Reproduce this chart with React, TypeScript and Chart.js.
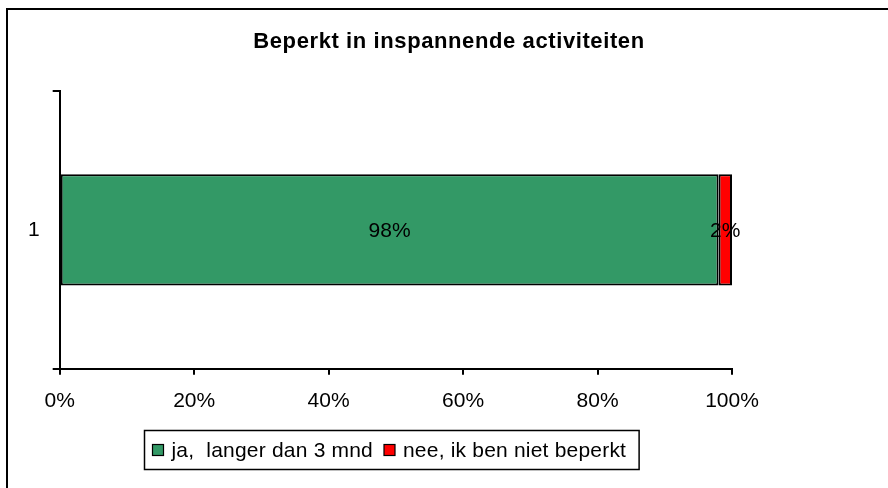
import React, { useEffect, useRef } from "react";
import { Chart, registerables } from "chart.js";

Chart.register(...registerables);

const titleText = "Beperkt in inspannende activiteiten";
const categories = ["1"];
const seriesLabels = ["ja,  langer dan 3 mnd", "nee, ik ben niet beperkt"];
const jaValues = [98];
const neeValues = [2];
const seriesColors = ["#339966", "#FF0000"];
const xTickStep = 20;
const xMin = 0;
const xMax = 100;

const FONT = "'Liberation Sans', Arial, Helvetica, sans-serif";

const frameBorder = {
  id: "frameBorder",
  afterDraw(chart: any) {
    const ctx = chart.ctx;
    ctx.save();
    ctx.strokeStyle = "#000";
    ctx.lineWidth = 2;
    ctx.strokeRect(7, 9, 3000, 3000);
    ctx.restore();
  },
};

const titlePlugin = {
  id: "titlePlugin",
  afterDraw(chart: any) {
    const ctx = chart.ctx;
    ctx.save();
    ctx.font = `bold 22px ${FONT}`;
    try {
      (ctx as any).letterSpacing = "0.6px";
    } catch (e) {}
    ctx.fillStyle = "#000";
    ctx.textAlign = "center";
    ctx.textBaseline = "middle";
    ctx.fillText(titleText, 449, 42);
    ctx.restore();
  },
};

const dataLabels = {
  id: "dataLabels",
  afterDatasetsDraw(chart: any) {
    const ctx = chart.ctx;
    ctx.save();
    ctx.font = `21px ${FONT}`;
    ctx.fillStyle = "#000";
    ctx.textAlign = "center";
    ctx.textBaseline = "middle";
    chart.data.datasets.forEach((ds: any, di: number) => {
      const meta = chart.getDatasetMeta(di);
      meta.data.forEach((el: any, i: number) => {
        const p = el.getProps(["x", "base", "y"], true);
        const v = ds.data[i];
        ctx.fillText(`${v}%`, (p.x + p.base) / 2, p.y + 1);
      });
    });
    ctx.restore();
  },
};

const boxLegend = {
  id: "boxLegend",
  afterDraw(chart: any) {
    const ctx = chart.ctx;
    const ca = chart.chartArea;
    ctx.save();
    ctx.font = `21px ${FONT}`;
    try {
      (ctx as any).letterSpacing = "0.2px";
    } catch (e) {}
    const box = 11;
    const gapText = 8;
    const itemGap = 11;
    const padL = 8;
    const padR = 13;
    const items = chart.data.datasets.map((ds: any) => ({
      label: ds.label,
      color: ds.backgroundColor,
      w: ctx.measureText(ds.label).width,
    }));
    let total = padL + padR + itemGap * (items.length - 1);
    items.forEach((it: any) => (total += box + gapText + it.w));
    const cx = (ca.left + ca.right) / 2 - 5;
    const left = Math.round(cx - total / 2) + 0.5;
    const top = 430.5;
    const bottom = 469.5;
    const cy = (top + bottom) / 2;
    ctx.fillStyle = "#fff";
    ctx.fillRect(left, top, total, bottom - top);
    ctx.strokeStyle = "#000";
    ctx.lineWidth = 1.5;
    ctx.strokeRect(left, top, total, bottom - top);
    let x = left + padL;
    items.forEach((it: any) => {
      ctx.fillStyle = it.color;
      ctx.fillRect(x, cy - box / 2, box, box);
      ctx.lineWidth = 1.2;
      ctx.strokeStyle = "#000";
      ctx.strokeRect(x, cy - box / 2, box, box);
      x += box + gapText;
      ctx.fillStyle = "#000";
      ctx.textAlign = "left";
      ctx.textBaseline = "middle";
      ctx.fillText(it.label, x, cy + 1);
      x += it.w + itemGap;
    });
    ctx.restore();
  },
};

export default function App() {
  const ref = useRef<HTMLCanvasElement | null>(null);

  useEffect(() => {
    if (!ref.current) return;
    const chart = new Chart(ref.current, {
      type: "bar",
      data: {
        labels: categories,
        datasets: [
          {
            label: seriesLabels[0],
            data: jaValues,
            backgroundColor: seriesColors[0],
            borderColor: "#000",
            borderWidth: 2,
            borderSkipped: false,
            barPercentage: 0.4,
            categoryPercentage: 1.0,
          },
          {
            label: seriesLabels[1],
            data: neeValues,
            backgroundColor: seriesColors[1],
            borderColor: "#000",
            borderWidth: 2,
            borderSkipped: false,
            barPercentage: 0.4,
            categoryPercentage: 1.0,
          },
        ],
      },
      options: {
        indexAxis: "y",
        responsive: false,
        animation: false,
        layout: { padding: { left: 15, right: 156, top: 91, bottom: 60 } },
        plugins: {
          legend: { display: false },
          tooltip: { enabled: false },
          title: { display: false },
        },
        scales: {
          x: {
            stacked: true,
            min: xMin,
            max: xMax,
            ticks: {
              stepSize: xTickStep,
              callback: (v: any) => `${v}%`,
              color: "#000",
              font: { family: FONT, size: 21 },
              padding: 14,
              maxRotation: 0,
            },
            grid: {
              drawOnChartArea: false,
              drawTicks: true,
              tickLength: 6,
              color: "#000",
              lineWidth: 2,
            },
            border: { display: true, color: "#000", width: 2 },
          },
          y: {
            stacked: true,
            offset: true,
            ticks: {
              color: "#000",
              font: { family: FONT, size: 21 },
              padding: 13,
            },
            grid: {
              offset: true,
              drawOnChartArea: false,
              drawTicks: true,
              tickLength: 7,
              color: "#000",
              lineWidth: 2,
            },
            border: { display: true, color: "#000", width: 2 },
          },
        },
      },
      plugins: [dataLabels, titlePlugin, boxLegend, frameBorder],
    });
    return () => chart.destroy();
  }, []);

  return (
    <div style={{ position: "fixed", left: 0, top: 0, width: 888, height: 488, background: "#fff" }}>
      <canvas ref={ref} width={888} height={488} style={{ display: "block" }} />
    </div>
  );
}
